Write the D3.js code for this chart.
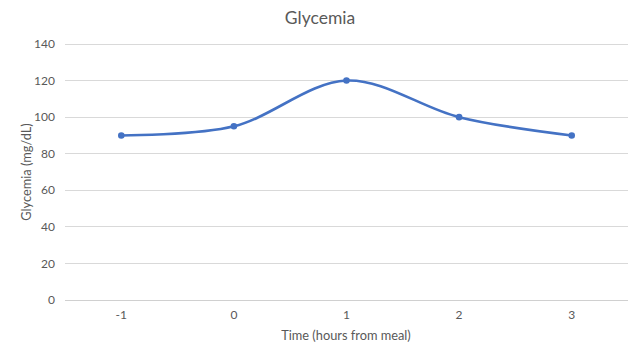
<!DOCTYPE html>
<html><head><meta charset="utf-8">
<script src="https://cdn.jsdelivr.net/npm/d3@7"></script>
<style>body{margin:0;background:#fff}text{font-family:Lato,"Open Sans",sans-serif;fill:#595959}</style>
</head><body>
<script>
const categories = ["-1","0","1","2","3"];
const values = [90, 95, 120, 100, 90];
const yTicks = [0,20,40,60,80,100,120,140];

const W=638,H=358;
const svg=d3.select("body").append("svg").attr("width",W).attr("height",H);
const mLeft=65,mRight=628,mTop=44,mBottom=300;
const x=d3.scalePoint().domain(categories).range([mLeft,mRight]).padding(0.5);
const y=d3.scaleLinear().domain([0,140]).range([mBottom,mTop]);

svg.append("g").selectAll("line").data(yTicks).join("line")
  .attr("x1",mLeft).attr("x2",mRight).attr("y1",d=>y(d)).attr("y2",d=>y(d))
  .attr("stroke",d=>d===0?"#d0d0d0":"#d9d9d9").attr("stroke-width",1)
  .attr("shape-rendering","crispEdges");
svg.append("g").selectAll("text").data(yTicks).join("text")
  .attr("x",mLeft-10).attr("y",d=>y(d)).attr("dy","0.35em").attr("text-anchor","end")
  .attr("font-size",12).text(d=>d);
svg.append("g").selectAll("text").data(categories).join("text")
  .attr("x",d=>x(d)).attr("y",mBottom+19).attr("text-anchor","middle")
  .attr("font-size",12).text(d=>d);

const pts=categories.map((c,i)=>[x(c),y(values[i])]);
svg.append("path").attr("d",d3.line().curve(d3.curveCardinal.tension(0))(pts))
  .attr("fill","none").attr("stroke","#4472C4").attr("stroke-width",2.6).attr("stroke-linecap","round");
svg.append("g").selectAll("circle").data(pts).join("circle")
  .attr("cx",d=>d[0]).attr("cy",d=>d[1]).attr("r",3.3).attr("fill","#4472C4");

svg.append("text").attr("x",320).attr("y",24).attr("text-anchor","middle").attr("font-size",17.5).text("Glycemia");
svg.append("text").attr("x",346).attr("y",340).attr("text-anchor","middle").attr("font-size",12.8).text("Time (hours from meal)");
svg.append("text").attr("transform","translate(31,172) rotate(-90)").attr("text-anchor","middle").attr("font-size",12.8).text("Glycemia (mg/dL)");
</script>
</body></html>
